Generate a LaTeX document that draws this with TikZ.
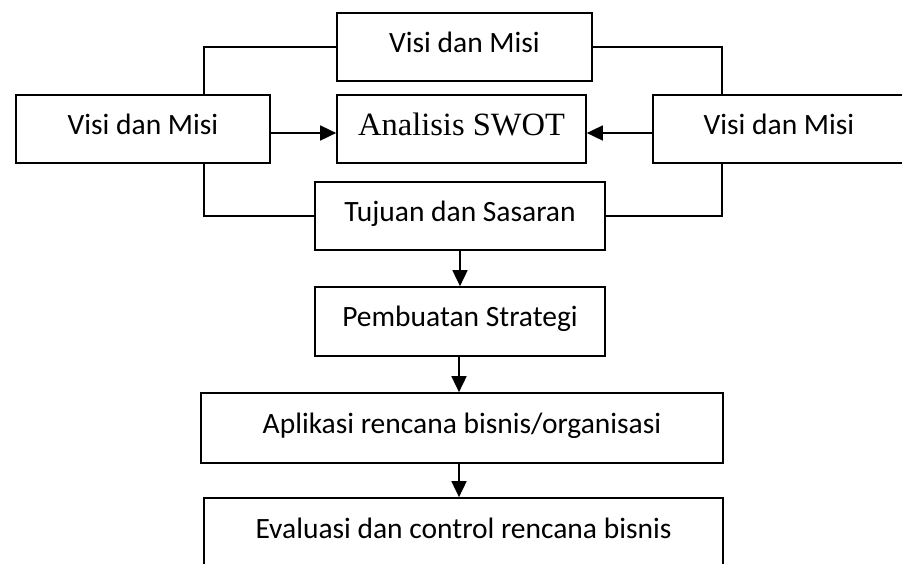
\documentclass[tikz,border=0pt]{standalone}
\usepackage{fontspec}
\setmainfont{Carlito}
\newfontfamily\timesf{Liberation Serif}
\usetikzlibrary{arrows.meta}
\begin{document}
\begin{tikzpicture}[x=1pt,y=-1pt,
  box/.style={draw,line width=1.7pt,inner sep=0pt,font=\fontsize{29.5}{35}\selectfont,text height=19pt,text depth=9pt},
  conn/.style={line width=1.7pt},
  arr/.style={line width=1.7pt,-{Triangle[length=16pt,width=15pt]}}]
\useasboundingbox (0,0) rectangle (902,563);
\clip (0,0) rectangle (902,563);
\fill[white] (0,0) rectangle (902,563);
\node[box,minimum width=255pt,minimum height=68pt] (top) at (464.5,47) {Visi dan Misi};
\node[box,minimum width=254pt,minimum height=68pt] (left) at (143,129) {Visi dan Misi};
\node[box,minimum width=249pt,minimum height=68pt,font=\timesf\fontsize{32.5}{38}\selectfont,text height=21pt,text depth=8pt] (swot) at (461.5,129) {Analisis SWOT};
\node[box,minimum width=252pt,minimum height=68pt] (right) at (779,129) {Visi dan Misi};
\node[box,minimum width=290pt,minimum height=68pt] (tuj) at (460,216) {Tujuan dan Sasaran};
\node[box,minimum width=290pt,minimum height=69pt] (pemb) at (460,321.5) {Pembuatan Strategi};
\node[box,minimum width=522pt,minimum height=70pt] (apl) at (462,428) {Aplikasi rencana bisnis/organisasi};
\node[box,minimum width=519pt,minimum height=70pt] (eval) at (463.5,533) {Evaluasi dan control rencana bisnis};
\coordinate (lj) at (204,0);
\coordinate (rj) at (722,0);
\draw[conn] (top.west) -| (lj |- left.north);
\draw[conn] (lj |- left.south) |- (tuj.west);
\draw[conn] (top.east) -| (rj |- right.north);
\draw[conn] (rj |- right.south) |- (tuj.east);
\draw[arr] ([yshift=-4pt]left.east) -- ([yshift=-4pt]swot.west);
\draw[arr] ([yshift=-4pt]right.west) -- ([yshift=-4pt]swot.east);
\draw[arr] (tuj.south) -- (pemb.north);
\draw[arr] ([xshift=-1pt]pemb.south) -- ([xshift=-1pt]pemb.south |- apl.north);
\draw[arr] ([xshift=-1pt]pemb.south |- apl.south) -- ([xshift=-1pt]pemb.south |- eval.north);
\end{tikzpicture}
\end{document}
